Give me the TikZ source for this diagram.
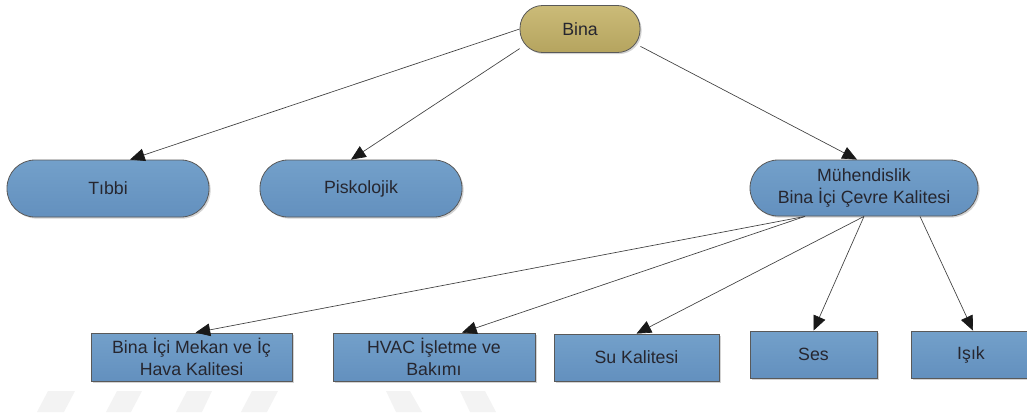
\documentclass[tikz,border=0pt]{standalone}
\usepackage{fontspec}
\setmainfont{Liberation Sans}
\usetikzlibrary{shadows,arrows.meta}
\definecolor{txt}{HTML}{26262F}
\definecolor{bluetop}{HTML}{73A0CA}
\definecolor{bluebot}{HTML}{6390BE}
\definecolor{khtop}{HTML}{CBBB78}
\definecolor{khbot}{HTML}{B5A45F}
\definecolor{wm}{HTML}{F3F3F3}
\tikzset{
  base/.style={draw=black!65, line width=0.6pt, text=txt, align=center,
    font=\fontsize{13.3}{17}\selectfont, inner sep=0pt,
    drop shadow={opacity=0.35, shadow xshift=1.2pt, shadow yshift=-1.2pt}},
  pill/.style={base, top color=bluetop, bottom color=bluebot, rounded corners=21pt},
  root/.style={base, top color=khtop, bottom color=khbot, rounded corners=17pt,
    minimum width=90pt, minimum height=35.25pt},
  leaf/.style={base, top color=bluetop, bottom color=bluebot, minimum height=36pt},
  arr/.style={draw=black!75, line width=0.5pt, -{Triangle[length=11pt,width=9.5pt,fill=black!90,color=black!90]}},
  wmark/.style={fill=wm, draw=none}
}
\begin{document}
\begin{tikzpicture}[x=0.75pt,y=-0.75pt]
\useasboundingbox (0,0) rectangle (1027,412);
% faint watermark
\fill[wmark] (48,391) -- (75,391) -- (64,412) -- (37,412) -- cycle;
\fill[wmark] (117,391) -- (142,391) -- (131,412) -- (106,412) -- cycle;
\fill[wmark] (187,391) -- (212,391) -- (202,412) -- (176,412) -- cycle;
\fill[wmark] (252,391) -- (278,391) -- (267,412) -- (241,412) -- cycle;
\fill[wmark] (386,391) -- (410,391) -- (422,412) -- (396,412) -- cycle;
\fill[wmark] (460,391) -- (485,391) -- (496,412) -- (470,412) -- cycle;
% nodes
\node[root] (bina) at (580,29) {Bina};
\node[pill, minimum width=151.5pt, minimum height=42.75pt] (tibbi) at (108,188.5) {Tıbbi};
\node[pill, minimum width=151.5pt, minimum height=42.75pt] (psk) at (361,188.5) {Piskolojik};
\node[pill, minimum width=171pt, minimum height=42pt] (muh) at (864,188) {Mühendislik\\Bina İçi Çevre Kalitesi};
\node[leaf, minimum width=150.75pt] (b1) at (191.5,357) {Bina İçi Mekan ve İç\\Hava Kalitesi};
\node[leaf, minimum width=151.5pt] (b2) at (434,357) {HVAC İşletme ve\\Bakımı};
\node[leaf, minimum width=123.75pt, minimum height=35.25pt] (b3) at (636.5,357.5) {Su Kalitesi};
\node[leaf, minimum width=95.25pt, minimum height=35.25pt] (b4) at (813.5,354.5) {Ses};
\node[leaf, minimum width=90pt, minimum height=35.25pt] (b5) at (971,354.5) {Işık};
% connectors
\draw[arr] (bina.west) -- ([xshift=16.5pt]tibbi.north);
\draw[arr] (bina.198) -- ([xshift=-7.5pt]psk.north);
\draw[arr] (bina.-16) -- ([xshift=-5.25pt]muh.north);
\draw[arr] ([xshift=-44.25pt]muh.south) -- ([xshift=3pt]b1.north);
\draw[arr] ([xshift=-44.25pt]muh.south) -- ([xshift=21pt]b2.north);
\draw[arr] ([xshift=0pt]muh.south) -- (b3.north);
\draw[arr] ([xshift=0pt]muh.south) -- (b4.north);
\draw[arr] ([xshift=42pt]muh.south) -- ([xshift=1.5pt]b5.north);
\end{tikzpicture}
\end{document}
